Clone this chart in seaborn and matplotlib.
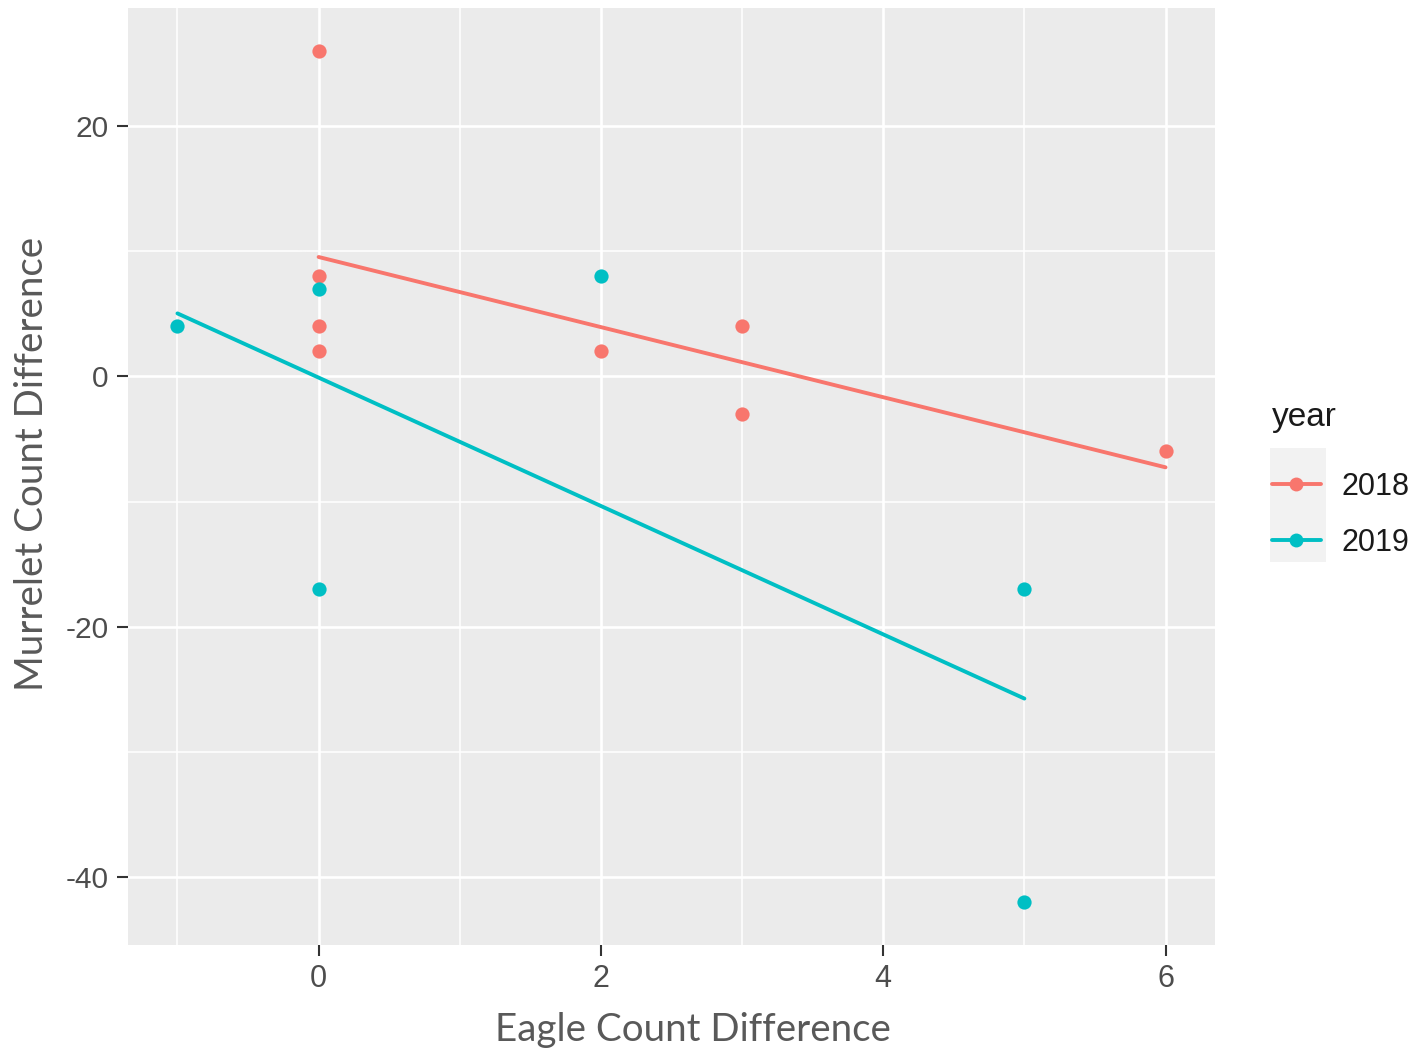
import numpy as np
import pandas as pd
import seaborn as sns
import matplotlib
matplotlib.use("Agg")
import matplotlib.pyplot as plt
from matplotlib.lines import Line2D
from matplotlib.patches import Rectangle

# ---- data ----
eagle_2018 = [0, 0, 0, 0, 2, 3, 3, 6]
murrelet_2018 = [26, 8, 4, 2, 2, 4, -3, -6]
eagle_2019 = [-1, 0, 0, 2, 5, 5]
murrelet_2019 = [4, 7, -17, 8, -17, -42]
years = ["2018", "2019"]
colors = ["#F8766D", "#00BFC4"]
x_ticks = [0, 2, 4, 6]
y_ticks = [-40, -20, 0, 20]

df = pd.concat([
    pd.DataFrame({"eagle": eagle_2018, "murrelet": murrelet_2018, "year": "2018"}),
    pd.DataFrame({"eagle": eagle_2019, "murrelet": murrelet_2019, "year": "2019"}),
], ignore_index=True)

sns.set_theme(style="darkgrid")
plt.rcParams["font.family"] = ["Liberation Sans", "DejaVu Sans"]
plt.rcParams["axes.unicode_minus"] = False

fig = plt.figure(figsize=(14.18, 10.5), dpi=100)
ax = fig.add_axes([0.0903, 0.1, 0.7665, 0.8924])
ax.set_facecolor("#EBEBEB")

for yr, col in zip(years, colors):
    sub = df[df["year"] == yr]
    sns.regplot(data=sub, x="eagle", y="murrelet", ci=None, ax=ax, color=col,
                scatter_kws={"s": 105, "linewidths": 0, "alpha": 1, "zorder": 3},
                line_kws={"lw": 2.8, "zorder": 4})

ax.set_xlim(-1.35, 6.35)
ax.set_ylim(-45.4, 29.4)
ax.set_xticks(x_ticks)
ax.set_yticks(y_ticks)
ax.set_xticks([-1, 1, 3, 5], minor=True)
ax.set_yticks([-30, -10, 10], minor=True)
ax.grid(which="major", color="white", lw=1.9)
ax.grid(which="minor", color="white", lw=1.1)
ax.set_axisbelow(True)
for s in ax.spines.values():
    s.set_visible(False)
ax.tick_params(which="major", length=8, width=1.5, color="#333333",
               labelcolor="#4D4D4D", pad=6, bottom=True, left=True)
ax.tick_params(which="minor", length=0)
for lab in ax.get_yticklabels():
    lab.set_fontsize(21.5)
for lab in ax.get_xticklabels():
    lab.set_fontsize(22)
    lab.set_family(["Liberation Sans Narrow", "Liberation Sans", "DejaVu Sans"])

ax.set_xlabel("Eagle Count Difference", fontsize=27.7, color="#595959",
              family=["Lato", "DejaVu Sans"])
ax.set_ylabel("Murrelet Count Difference", fontsize=27.7, color="#595959",
              family=["Lato", "DejaVu Sans"])
ax.xaxis.set_label_coords(0.52, -0.071)
ax.yaxis.set_label_coords(-0.072, 0.513)

# legend
handles = [Line2D([0], [0], color=c, lw=2.8, marker="o", ms=10, mew=0) for c in colors]
fig.patches.append(Rectangle((1270 / 1418, 1 - 562 / 1050), 56 / 1418, 114 / 1050,
                             transform=fig.transFigure, facecolor="#F2F2F2",
                             edgecolor="none", zorder=0))
leg = fig.legend(handles, years, title="year", loc="upper left",
                 bbox_to_anchor=(1272 / 1418, 1 - 402 / 1050), frameon=False,
                 borderpad=0, borderaxespad=0,
                 fontsize=22, title_fontsize=24, handlelength=1.6,
                 labelspacing=0.85, handletextpad=0.68)
leg._legend_box.align = "left"
leg._legend_box.sep = 28
for t in leg.get_texts():
    t.set_color("#1A1A1A")
leg.get_title().set_color("#1A1A1A")

fig.savefig("out.png", dpi=100, facecolor="white")
